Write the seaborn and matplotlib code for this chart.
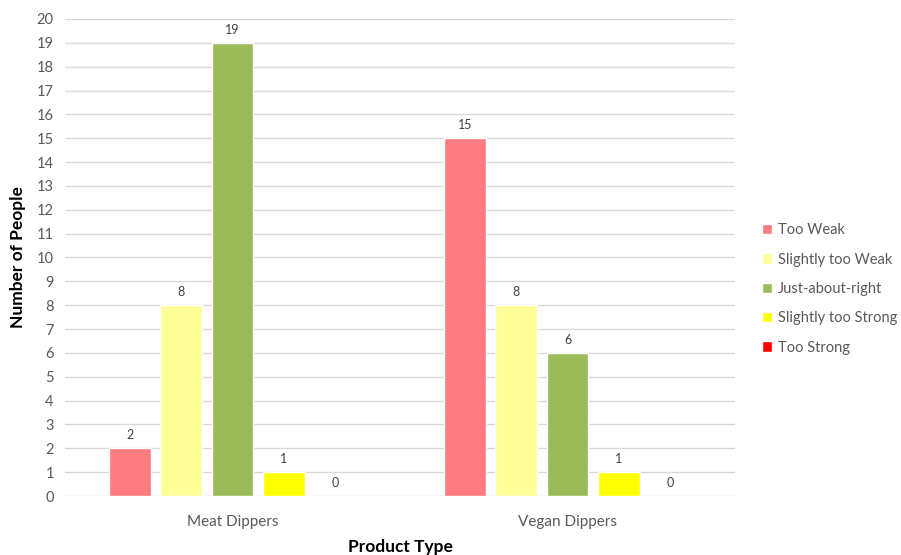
import matplotlib
matplotlib.use("Agg")
import matplotlib.pyplot as plt
import seaborn as sns
import pandas as pd

products = ["Meat Dippers", "Vegan Dippers"]
ratings = ["Too Weak", "Slightly too Weak", "Just-about-right", "Slightly too Strong", "Too Strong"]
meat_counts = [2, 8, 19, 1, 0]
vegan_counts = [15, 8, 6, 1, 0]
colors = ["#FF7C80", "#FFFF99", "#9BBB59", "#FFFF00", "#FF0000"]

rows = []
for r, m, v in zip(ratings, meat_counts, vegan_counts):
    rows.append({"Product Type": products[0], "Rating": r, "Count": m})
    rows.append({"Product Type": products[1], "Rating": r, "Count": v})
df = pd.DataFrame(rows)

sns.set_theme(style="white")
plt.rcParams['font.family'] = ['Lato', 'DejaVu Sans']

fig = plt.figure(figsize=(9.01, 5.55), dpi=100)
ax = fig.add_axes([0.072, 0.1063, 0.744, 0.8595])

sns.barplot(data=df, x="Product Type", y="Count", hue="Rating",
            order=products, hue_order=ratings, palette=colors,
            width=0.766, gap=0.19, ax=ax, saturation=1, errorbar=None)

for c in ax.containers:
    ax.bar_label(c, fmt="%d", padding=5, fontsize=9, color="#404040")

ax.set_ylim(0, 20)
ax.set_xlim(-0.5, 1.5)
ax.set_yticks(range(0, 21))
ax.yaxis.grid(True, color="#D9D9D9", linewidth=1)
ax.set_axisbelow(True)
for s in ax.spines.values():
    s.set_visible(False)
ax.tick_params(axis="both", length=0, labelsize=10.5, labelcolor="#595959")
ax.tick_params(axis="x", pad=14, labelsize=11)
ax.tick_params(axis="y", pad=8)
ax.set_ylabel("Number of People", fontsize=12.5, fontweight="bold", color="black", labelpad=8)
ax.set_xlabel("Product Type", fontsize=12.5, fontweight="bold", color="black", labelpad=7)

leg = ax.legend(loc="center left", bbox_to_anchor=(1.02, 0.434), frameon=False,
                handlelength=0.7, handleheight=0.7, handletextpad=0.4,
                labelspacing=1.05, fontsize=10.5)
for t in leg.get_texts():
    t.set_color("#595959")

fig.savefig("out.png", dpi=100)
